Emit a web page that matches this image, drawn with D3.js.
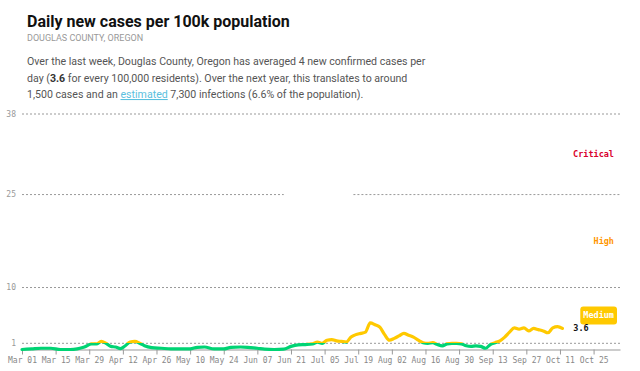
<!DOCTYPE html>
<html>
<head>
<meta charset="utf-8">
<script src="https://cdn.jsdelivr.net/npm/d3@7"></script>
<style>
  body { margin: 0; background: #fff; }
  svg { display: block; }
</style>
</head>
<body>
<div id="chart"></div>
<script>
// daily new cases per 100k
var dates = ["2020-03-01","2020-03-05","2020-03-09","2020-03-13","2020-03-17","2020-03-21","2020-03-24",
  "2020-03-27","2020-03-30","2020-04-01","2020-04-03","2020-04-05","2020-04-07","2020-04-09","2020-04-11",
  "2020-04-13","2020-04-15","2020-04-17","2020-04-19","2020-04-21","2020-04-24","2020-04-28","2020-05-02",
  "2020-05-06","2020-05-10","2020-05-13","2020-05-16","2020-05-20","2020-05-24","2020-05-27","2020-05-31",
  "2020-06-04","2020-06-07","2020-06-10","2020-06-14","2020-06-18","2020-06-21","2020-06-24","2020-06-27",
  "2020-06-30","2020-07-02","2020-07-04","2020-07-06","2020-07-08","2020-07-10","2020-07-12","2020-07-14",
  "2020-07-16","2020-07-18","2020-07-20","2020-07-22","2020-07-24","2020-07-26","2020-07-28","2020-07-30",
  "2020-08-01","2020-08-03","2020-08-05","2020-08-07","2020-08-09","2020-08-11","2020-08-13","2020-08-15",
  "2020-08-17","2020-08-19","2020-08-21","2020-08-23","2020-08-25","2020-08-27","2020-08-29","2020-08-31",
  "2020-09-02","2020-09-04","2020-09-06","2020-09-08","2020-09-10","2020-09-12","2020-09-14","2020-09-16",
  "2020-09-18","2020-09-20","2020-09-22","2020-09-24","2020-09-26","2020-09-28","2020-09-30","2020-10-02",
  "2020-10-04","2020-10-06","2020-10-08","2020-10-10","2020-10-12"];
var casesPer100k = [0.0,0.1,0.2,0.2,0.0,0.0,0.1,
  0.4,0.9,0.9,1.3,1.0,0.5,0.4,0.15,
  0.6,1.2,1.3,1.0,0.6,0.3,0.2,0.1,
  0.1,0.1,0.35,0.4,0.1,0.1,0.35,0.4,
  0.3,0.2,0.05,0.0,0.05,0.5,0.75,0.8,
  0.9,1.2,1.0,1.5,1.6,1.4,1.3,1.2,
  2.0,2.4,2.6,2.8,4.3,4.0,3.6,2.4,
  1.5,1.8,2.2,2.6,2.3,2.0,1.5,1.1,
  1.0,1.1,0.8,0.6,0.9,1.0,1.0,0.9,
  0.6,0.5,0.6,0.5,0.2,0.8,1.1,1.4,
  2.0,2.8,3.5,3.3,3.5,3.0,3.4,3.2,
  3.0,2.7,3.5,3.7,3.4];

// risk levels
var levelMax = [1, 10, 25, 38];
var levelNames = ["Low", "Medium", "High", "Critical"];
var levelColors = ["#00d474", "#ffc900", "#ff9600", "#d9002c"];
var yTicks = [1, 10, 25, 38];
var gap25 = ["2020-06-18", "2020-07-17"];   // hole in the 25 line
var lastValue = "3.6";

var W = 640, H = 371;
var parse = d3.timeParse("%Y-%m-%d");
var data = dates.map(function(d, i){ return {date: parse(d), value: casesPer100k[i]}; });

var svg = d3.select("#chart").append("svg")
    .attr("width", W).attr("height", H);

// header text
svg.append("text")
    .attr("x", 27).attr("y", 27)
    .style("font", "bold 16px Roboto, sans-serif")
    .attr("fill", "#111")
    .text("Daily new cases per 100k population");
svg.append("text")
    .attr("x", 27).attr("y", 41)
    .style("font", "9px Roboto, sans-serif")
    .attr("fill", "#999")
    .text("DOUGLAS COUNTY, OREGON");

var body = svg.append("g")
    .style("font", "10.6px Roboto, sans-serif")
    .attr("fill", "#555");
body.append("text").attr("x", 27).attr("y", 65)
    .text("Over the last week, Douglas County, Oregon has averaged 4 new confirmed cases per");
var l2 = body.append("text").attr("x", 27).attr("y", 82);
l2.append("tspan").text("day (");
l2.append("tspan").attr("font-weight", "bold").attr("fill", "#333").text("3.6");
l2.append("tspan").text(" for every 100,000 residents). Over the next year, this translates to around");
var l3 = body.append("text").attr("x", 27).attr("y", 98);
l3.append("tspan").text("1,500 cases and an ");
l3.append("tspan").attr("fill", "#5bc0de").style("text-decoration", "underline").text("estimated");
l3.append("tspan").text(" 7,300 infections (6.6% of the population).");

// scales
var x = d3.scaleTime()
    .domain([parse("2020-03-01"), parse("2020-11-05")])
    .range([22, 620]);
var y = d3.scaleLinear().domain([0, 38]).range([349.5, 114]);

var mono = "DejaVu Sans Mono, monospace";

// gridlines
var grid = svg.append("g");
yTicks.forEach(function(t){
  var segs = [[x.domain()[0], x.domain()[1]]];
  if (t === 25) segs = [[x.domain()[0], parse(gap25[0])], [parse(gap25[1]), x.domain()[1]]];
  segs.forEach(function(s){
    grid.append("line")
        .attr("x1", x(s[0])).attr("x2", x(s[1]))
        .attr("y1", y(t)).attr("y2", y(t))
        .attr("stroke", "#999").attr("stroke-width", 1)
        .attr("stroke-dasharray", "2,2");
  });
  grid.append("text")
      .attr("x", 16).attr("y", y(t)).attr("dy", "0.35em")
      .attr("text-anchor", "end")
      .style("font", "8px " + mono)
      .attr("fill", "#999")
      .text(t);
});

// x axis
var ticks = d3.timeDay.range(parse("2020-03-01"), parse("2020-11-01"), 14);
var xAxis = svg.append("g")
    .attr("transform", "translate(0," + y(0) + ")")
    .call(d3.axisBottom(x).tickValues(ticks).tickFormat(d3.timeFormat("%b %d")).tickSize(5).tickSizeOuter(0));
xAxis.select(".domain").attr("stroke", "#999");
xAxis.selectAll(".tick line").attr("stroke", "#999");
xAxis.selectAll(".tick text")
    .attr("y", 8)
    .style("font", "8px " + mono)
    .attr("fill", "#888");

// colour the line by level with hard stops
var grad = svg.append("defs").append("linearGradient")
    .attr("id", "levelGrad")
    .attr("gradientUnits", "userSpaceOnUse")
    .attr("x1", 0).attr("x2", 0)
    .attr("y1", y(0)).attr("y2", y(38));
var lo = 0;
levelMax.forEach(function(m, i){
  grad.append("stop").attr("offset", lo / 38).attr("stop-color", levelColors[i]);
  grad.append("stop").attr("offset", m / 38).attr("stop-color", levelColors[i]);
  lo = m;
});

var line = d3.line()
    .x(function(d){ return x(d.date); })
    .y(function(d){ return y(d.value); })
    .curve(d3.curveMonotoneX);

svg.append("path")
    .datum(data)
    .attr("d", line)
    .attr("fill", "none")
    .attr("stroke", "url(#levelGrad)")
    .attr("stroke-width", 3.2)
    .attr("stroke-linejoin", "round")
    .attr("stroke-linecap", "round");

// level labels
for (var i = 1; i < levelNames.length; i++) {
  var mid = (levelMax[i - 1] + levelMax[i]) / 2;
  if (levelNames[i] === "Medium") {
    var g = svg.append("g");
    var t = g.append("text")
        .attr("x", 614).attr("y", y(mid)).attr("dy", "0.35em")
        .attr("text-anchor", "end")
        .style("font", "bold 8.5px " + mono)
        .attr("fill", "#fff")
        .text(levelNames[i]);
    var bb = t.node().getBBox();
    g.insert("rect", "text")
        .attr("x", bb.x - 3).attr("y", bb.y - 4)
        .attr("width", bb.width + 6).attr("height", bb.height + 8)
        .attr("rx", 3)
        .attr("fill", levelColors[i]);
  } else {
    svg.append("text")
        .attr("x", 614).attr("y", y(mid)).attr("dy", "0.35em")
        .attr("text-anchor", "end")
        .style("font", "bold 8.5px " + mono)
        .attr("fill", levelColors[i])
        .text(levelNames[i]);
  }
}

// last value
var last = data[data.length - 1];
svg.append("text")
    .attr("x", x(last.date) + 11).attr("y", y(last.value)).attr("dy", "0.35em")
    .style("font", "bold 8.5px " + mono)
    .attr("fill", "#111")
    .text(lastValue);
</script>
</body>
</html>
